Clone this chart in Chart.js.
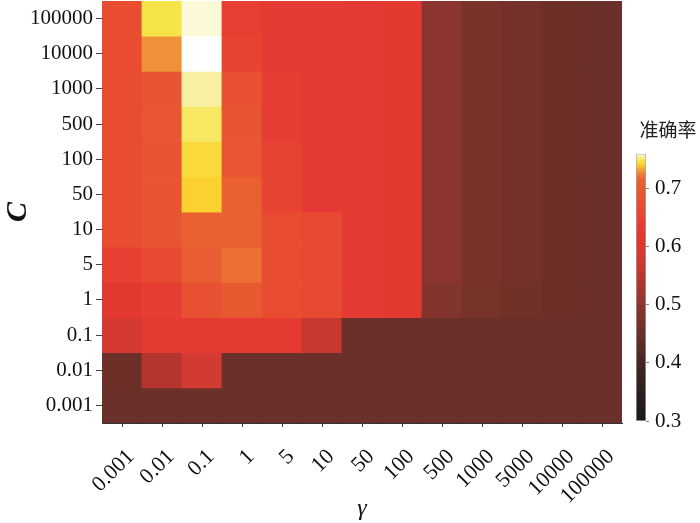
<!DOCTYPE html>
<html>
<head>
<meta charset="utf-8">
<script src="https://cdn.jsdelivr.net/npm/chart.js@4/dist/chart.umd.min.js"></script>
<style>
  html, body { margin: 0; padding: 0; background: #fff; overflow: hidden; }
  #wrap { position: relative; width: 700px; height: 523px; }
  #heat { position: absolute; left: 0; top: 0; }
  #cbar { position: absolute; left: 626px; top: 110px; }
</style>
</head>
<body>
<div id="wrap">
  <canvas id="heat" width="700" height="523"></canvas>
  <canvas id="cbar" width="74" height="320"></canvas>
</div>
<script>
// γ along the x axis, C along the y axis (top row first)
const gammaLabels = ['0.001', '0.01', '0.1', '1', '5', '10', '50', '100', '500', '1000', '5000', '10000', '100000'];
const cLabels = ['100000', '10000', '1000', '500', '100', '50', '10', '5', '1', '0.1', '0.01', '0.001'];

// accuracy (准确率), one array per C row, values per γ column
const accC100000 = [0.67, 0.748, 0.758, 0.645, 0.635, 0.635, 0.63, 0.62, 0.50, 0.475, 0.465, 0.455, 0.45];
const accC10000  = [0.67, 0.73, 0.76, 0.655, 0.635, 0.635, 0.63, 0.62, 0.50, 0.475, 0.465, 0.455, 0.45];
const accC1000   = [0.67, 0.69, 0.755, 0.68, 0.64, 0.635, 0.63, 0.62, 0.50, 0.475, 0.465, 0.455, 0.45];
const accC500    = [0.67, 0.695, 0.75, 0.69, 0.64, 0.635, 0.63, 0.62, 0.50, 0.475, 0.465, 0.455, 0.45];
const accC100    = [0.67, 0.685, 0.744, 0.695, 0.655, 0.635, 0.63, 0.62, 0.50, 0.475, 0.465, 0.455, 0.45];
const accC50     = [0.67, 0.69, 0.741, 0.715, 0.655, 0.635, 0.63, 0.62, 0.50, 0.475, 0.465, 0.455, 0.45];
const accC10     = [0.67, 0.69, 0.715, 0.715, 0.67, 0.665, 0.63, 0.62, 0.50, 0.475, 0.465, 0.455, 0.45];
const accC5      = [0.645, 0.665, 0.705, 0.72, 0.67, 0.665, 0.63, 0.62, 0.50, 0.475, 0.465, 0.455, 0.45];
const accC1      = [0.615, 0.64, 0.68, 0.70, 0.67, 0.665, 0.63, 0.62, 0.488, 0.47, 0.46, 0.455, 0.45];
const accC01     = [0.585, 0.625, 0.625, 0.625, 0.625, 0.565, 0.45, 0.45, 0.45, 0.45, 0.45, 0.45, 0.45];
const accC001    = [0.455, 0.54, 0.58, 0.45, 0.45, 0.45, 0.45, 0.45, 0.45, 0.45, 0.45, 0.45, 0.45];
const accC0001   = [0.45, 0.45, 0.45, 0.45, 0.45, 0.45, 0.45, 0.45, 0.45, 0.45, 0.45, 0.45, 0.45];
const accRows = [accC100000, accC10000, accC1000, accC500, accC100, accC50, accC10, accC5, accC1, accC01, accC001, accC0001];

const cbarTicks = [0.3, 0.4, 0.5, 0.6, 0.7];
const vMin = 0.3, vMax = 0.76;

// colour map
const cmapStops = [
    [0.30, '#1a1a1a'], [0.35, '#2b1f1d'], [0.40, '#472522'], [0.45, '#6a3029'],
    [0.475, '#7a3229'], [0.50, '#8c3530'], [0.54, '#b3352d'], [0.58, '#d23a32'],
    [0.615, '#e23830'], [0.635, '#e63b34'], [0.665, '#e84a31'], [0.69, '#e85532'],
    [0.715, '#ea6030'], [0.73, '#f09038'], [0.741, '#fbd030'], [0.748, '#f6e44a'],
    [0.755, '#f8f0a0'], [0.76, '#ffffff']
];

function hexToRgb(h) {
    return [parseInt(h.slice(1, 3), 16), parseInt(h.slice(3, 5), 16), parseInt(h.slice(5, 7), 16)];
}

function colorOf(v) {
    if (v <= cmapStops[0][0]) return cmapStops[0][1];
    for (let i = 1; i < cmapStops.length; i++) {
        if (v <= cmapStops[i][0]) {
            const a = cmapStops[i - 1], b = cmapStops[i];
            const t = (v - a[0]) / (b[0] - a[0]);
            const ca = hexToRgb(a[1]), cb = hexToRgb(b[1]);
            const c = ca.map((x, k) => Math.round(x + (cb[k] - x) * t));
            return 'rgb(' + c.join(',') + ')';
        }
    }
    return cmapStops[cmapStops.length - 1][1];
}

// no extra room for half tick labels at the ends of an axis
function noEndPadding(scale) {
    scale.paddingTop = 0;
    scale.paddingBottom = 0;
    scale.paddingLeft = 0;
    scale.paddingRight = 0;
}

Chart.defaults.font.family = "'Liberation Serif', 'Times New Roman', serif";
Chart.defaults.color = '#111';
Chart.defaults.animation = false;

// heat map: one floating bar per cell, a dataset per C row
const datasets = accRows.map((row, i) => ({
    label: cLabels[i],
    data: gammaLabels.map(() => [i - 0.5, i + 0.5]),
    backgroundColor: row.map(colorOf),
    borderWidth: 0,
    borderSkipped: false,
    inflateAmount: 0.4,
    barPercentage: 1,
    categoryPercentage: 1,
    grouped: false
}));

new Chart(document.getElementById('heat'), {
    type: 'bar',
    data: { labels: gammaLabels, datasets: datasets },
    options: {
        responsive: false,
        layout: { autoPadding: false, padding: { left: 0, right: 78, top: 1, bottom: 0 } },
        plugins: { legend: { display: false }, tooltip: { enabled: false } },
        scales: {
            x: {
                type: 'category',
                grid: { offset: false, drawOnChartArea: false, drawTicks: true, tickLength: 4, color: '#444' },
                border: { display: true, color: '#333' },
                ticks: {
                    font: { size: 22 }, autoSkip: false, minRotation: 45, maxRotation: 45,
                    padding: 17, labelOffset: 9, color: '#111'
                },
                title: { display: true, text: 'γ', font: { size: 24, style: 'italic' }, padding: { top: 0, bottom: 0 } },
                afterFit: function(scale) { scale.height = 100; noEndPadding(scale); }
            },
            y: {
                type: 'linear',
                reverse: true,
                min: -0.5,
                max: 11.5,
                afterBuildTicks: function(scale) {
                    scale.ticks = cLabels.map((_, i) => ({ value: i }));
                },
                grid: { drawOnChartArea: false, drawTicks: true, tickLength: 6, color: '#444' },
                border: { display: true, color: '#333' },
                ticks: {
                    font: { size: 21 },
                    padding: 3,
                    color: '#111',
                    callback: function(v) { return cLabels[v]; }
                },
                title: { display: true, text: 'C', font: { size: 30, style: 'italic', weight: 'bold' }, padding: { top: 0, bottom: 0 } },
                afterFit: function(scale) { scale.width = 102; noEndPadding(scale); }
            }
        }
    }
});

// colour bar
function cbarGradient(context) {
    const chart = context.chart;
    if (!chart.chartArea) return null;
    const ys = chart.scales.y;
    const g = chart.ctx.createLinearGradient(0, ys.getPixelForValue(vMin), 0, ys.getPixelForValue(vMax));
    cmapStops.forEach(s => g.addColorStop((s[0] - vMin) / (vMax - vMin), s[1]));
    return g;
}

new Chart(document.getElementById('cbar'), {
    type: 'bar',
    data: {
        labels: ['准确率'],
        datasets: [{
            data: [[vMin, vMax]],
            backgroundColor: cbarGradient,
            borderWidth: 1,
            borderColor: 'rgba(130,130,130,0.7)',
            borderSkipped: false,
            barPercentage: 1,
            categoryPercentage: 1
        }]
    },
    options: {
        responsive: false,
        layout: { autoPadding: false, padding: { left: 10, right: 0, top: 0, bottom: 9 } },
        plugins: {
            legend: { display: false },
            tooltip: { enabled: false },
            title: {
                display: true,
                text: '准确率',
                color: '#222',
                font: { family: "'Noto Sans CJK SC', sans-serif", size: 19, weight: 'normal' },
                padding: { top: 8, bottom: 13 }
            }
        },
        scales: {
            x: { display: false },
            y: {
                position: 'right',
                min: vMin,
                max: vMax,
                afterBuildTicks: function(scale) {
                    scale.ticks = cbarTicks.map(v => ({ value: v }));
                },
                grid: { drawOnChartArea: false, drawTicks: true, tickLength: 3, color: '#888' },
                border: { display: false },
                ticks: {
                    font: { size: 21 },
                    padding: 6,
                    color: '#111',
                    callback: function(v) { return v.toFixed(1); }
                },
                afterFit: function(scale) { scale.width = 54; noEndPadding(scale); }
            }
        }
    }
});
</script>
</body>
</html>
